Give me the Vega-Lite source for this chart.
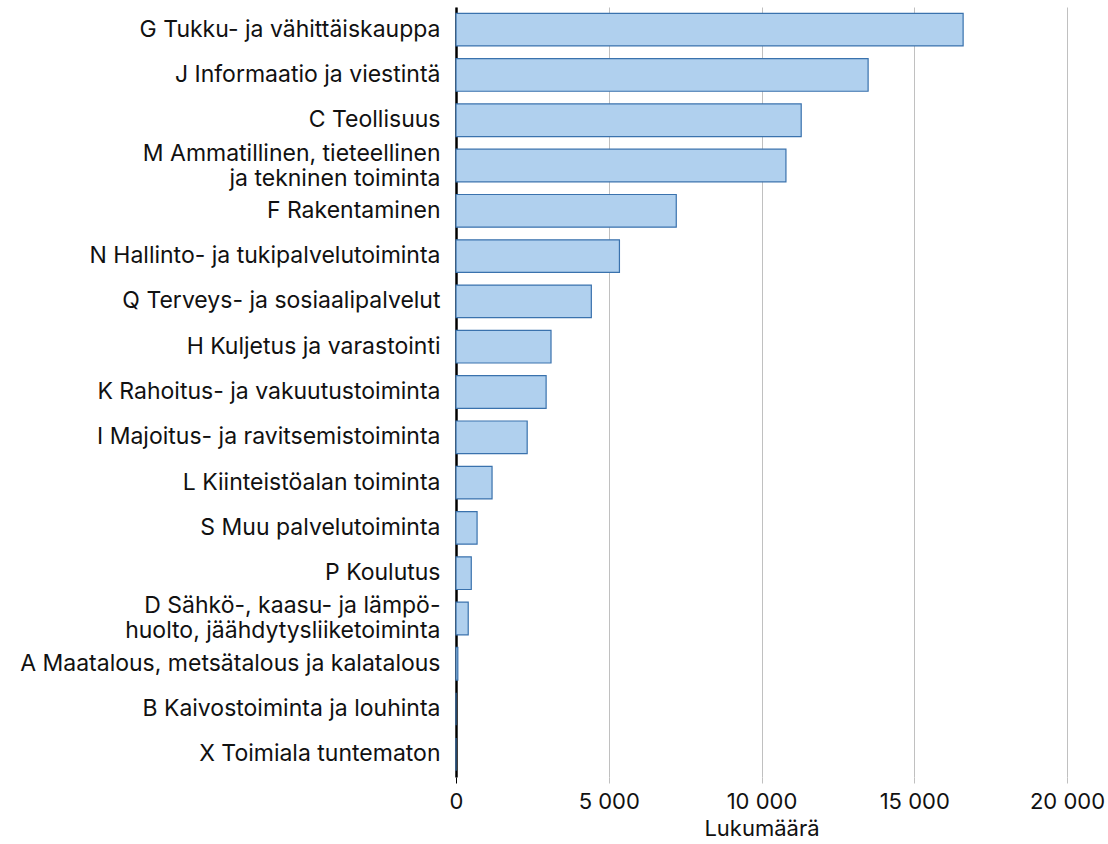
{
  "$schema": "https://vega.github.io/schema/vega-lite/v6.json",
  "width": 611,
  "height": 770,
  "padding": {"left": 19, "top": 7, "right": 5, "bottom": 5},
  "background": "white",
  "config": {"view": {"stroke": null}, "font": "Inter"},
  "data": {"values": [
    {"toimiala": "G Tukku- ja vähittäiskauppa", "n": 16600},
    {"toimiala": "J Informaatio ja viestintä", "n": 13490},
    {"toimiala": "C Teollisuus", "n": 11300},
    {"toimiala": "M Ammatillinen, tieteellinen|ja tekninen toiminta", "n": 10800},
    {"toimiala": "F Rakentaminen", "n": 7210},
    {"toimiala": "N Hallinto- ja tukipalvelutoiminta", "n": 5350},
    {"toimiala": "Q Terveys- ja sosiaalipalvelut", "n": 4430},
    {"toimiala": "H Kuljetus ja varastointi", "n": 3110},
    {"toimiala": "K Rahoitus- ja vakuutustoiminta", "n": 2950},
    {"toimiala": "I Majoitus- ja ravitsemistoiminta", "n": 2330},
    {"toimiala": "L Kiinteistöalan toiminta", "n": 1180},
    {"toimiala": "S Muu palvelutoiminta", "n": 690},
    {"toimiala": "P Koulutus", "n": 500},
    {"toimiala": "D Sähkö-, kaasu- ja lämpö-|huolto, jäähdytysliiketoiminta", "n": 400},
    {"toimiala": "A Maatalous, metsätalous ja kalatalous", "n": 60},
    {"toimiala": "B Kaivostoiminta ja louhinta", "n": 0},
    {"toimiala": "X Toimiala tuntematon", "n": 0}
  ]},
  "mark": {"type": "bar", "fill": "#b0d0ee", "stroke": "#3a72ad", "strokeWidth": 1.2},
  "encoding": {
    "y": {
      "field": "toimiala", "type": "nominal", "sort": null,
      "scale": {"paddingInner": 0.28, "paddingOuter": 0.14},
      "axis": {
        "title": null, "ticks": false, "grid": false,
        "domain": true, "domainColor": "#000000", "domainWidth": 2.5,
        "labelExpr": "split(datum.label, '|')",
        "labelFont": "Inter", "labelFontSize": 23, "labelColor": "#111111",
        "labelLineHeight": 25, "labelPadding": 16, "labelLimit": 700,
        "labelOffset": {"condition": {"test": "indexof(datum.value, '|') >= 0", "value": -12}, "value": 0}
      }
    },
    "x": {
      "field": "n", "type": "quantitative",
      "scale": {"domain": [0, 20000], "nice": false},
      "axis": {
        "title": "Lukumäärä", "titleFont": "Inter", "titleFontSize": 22, "titleFontWeight": "normal", "titleColor": "#111111", "titlePadding": 6,
        "values": [0, 5000, 10000, 15000, 20000],
        "labelExpr": "replace(format(datum.value, ','), ',', ' ')",
        "labelFont": "Inter", "labelFontSize": 22, "labelColor": "#111111", "labelPadding": 8, "labelFlush": false,
        "domain": false, "ticks": true, "tickSize": 6,
        "tickColor": {"condition": {"test": "datum.value == 0", "value": "#000000"}, "value": "#c0c0c0"},
        "grid": true, "gridColor": "#c0c0c0", "gridWidth": 1
      }
    }
  }
}
